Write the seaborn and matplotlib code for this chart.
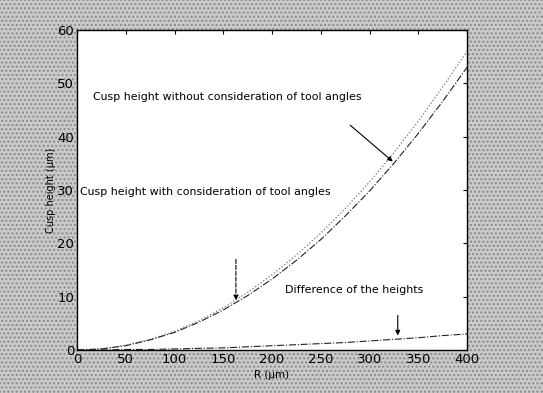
import numpy as np
import pandas as pd
import matplotlib
matplotlib.use("Agg")
import matplotlib.pyplot as plt
import seaborn as sns

# values
r_um = [0, 25, 50, 75, 100, 125, 150, 175, 200, 225, 250, 275, 300, 325, 350, 375, 400]
h_with = [0, 0.2, 0.8, 1.9, 3.3, 5.2, 7.5, 10.2, 13.3, 16.8, 20.7, 25.1, 29.8, 35.0, 40.6, 46.6, 53.0]
h_without = [0, 0.2, 0.9, 2.0, 3.5, 5.5, 7.9, 10.8, 14.1, 17.8, 21.9, 26.5, 31.5, 37.0, 42.9, 49.3, 56.0]
h_diff = [0, 0.0, 0.1, 0.1, 0.2, 0.3, 0.4, 0.6, 0.8, 1.0, 1.2, 1.4, 1.7, 2.0, 2.3, 2.7, 3.0]

xticks = [0, 50, 100, 150, 200, 250, 300, 350, 400]
yticks = [0, 10, 20, 30, 40, 50, 60]

df = pd.DataFrame({"R": r_um, "with": h_with, "without": h_without, "diff": h_diff})

sns.set_style("white")
plt.rcParams["font.family"] = ["DejaVu Sans"]
plt.rcParams["text.color"] = "black"
plt.rcParams["axes.labelcolor"] = "black"
plt.rcParams["xtick.color"] = "black"
plt.rcParams["ytick.color"] = "black"

fig = plt.figure(figsize=(5.43, 3.93), dpi=100)
fig.patch.set_facecolor("#bdbdbd")
# halftone look of the scanned background
bg = plt.Rectangle((0, 0), 1, 1, transform=fig.transFigure, facecolor="#cacaca",
                   edgecolor="#8a8a8a", hatch="....", linewidth=0, zorder=-10)
fig.patches.append(bg)

ax = fig.add_axes([77 / 543, 43 / 393, 390 / 543, 320 / 393])
ax.set_facecolor("white")

sns.lineplot(data=df, x="R", y="without", ax=ax, color="#777777", lw=0.9, linestyle=":")
sns.lineplot(data=df, x="R", y="with", ax=ax, color="#222222", lw=0.8, linestyle="-.")
sns.lineplot(data=df, x="R", y="diff", ax=ax, color="#222222", lw=0.8, linestyle="-.")

ax.set_xlim(0, 400)
ax.set_ylim(0, 60)
ax.set_xticks(xticks)
ax.set_yticks(yticks)
ax.tick_params(direction="in", length=3, width=0.8, top=True, right=True,
               labelsize=9.5, pad=2, colors="black")
for s in ax.spines.values():
    s.set_color("black")
    s.set_linewidth(1.0)
ax.set_xlabel("R (μm)", fontsize=7.5, labelpad=3)
ax.set_ylabel("Cusp height (μm)", fontsize=7, labelpad=1)

# annotations
ax.text(16, 47.4, "Cusp height without consideration of tool angles", fontsize=7.9, va="center")
ax.annotate("", xy=(326, 35), xytext=(278, 42.5),
            arrowprops=dict(arrowstyle="-|>", color="black", lw=0.8, mutation_scale=7))
ax.text(3, 29.6, "Cusp height with consideration of tool angles", fontsize=7.9, va="center")
ax.annotate("", xy=(163, 8.8), xytext=(163, 17.5),
            arrowprops=dict(arrowstyle="-|>", color="black", lw=0.8, linestyle="--",
                            mutation_scale=7))
ax.text(213, 11.3, "Difference of the heights", fontsize=7.9, va="center")
ax.annotate("", xy=(329, 2.2), xytext=(329, 7.0),
            arrowprops=dict(arrowstyle="-|>", color="black", lw=0.8, mutation_scale=7))

fig.savefig("out.png", dpi=100, facecolor=fig.get_facecolor())
